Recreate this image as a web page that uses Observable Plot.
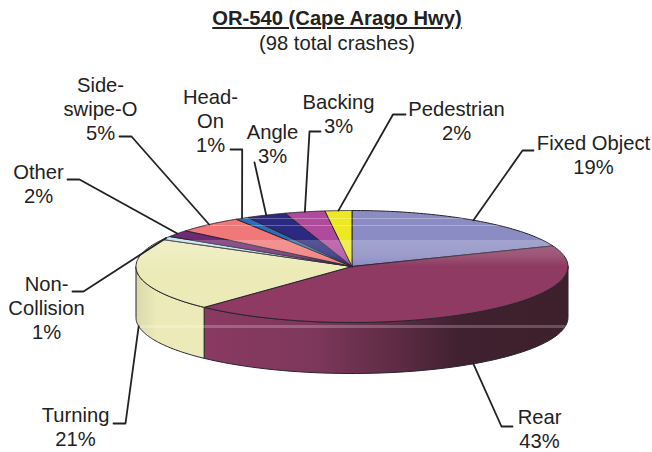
<!DOCTYPE html>
<html><head><meta charset="utf-8">
<script src="https://cdn.jsdelivr.net/npm/d3@7"></script>
<script src="https://cdn.jsdelivr.net/npm/@observablehq/plot@0.6"></script>
<style>
html,body{margin:0;padding:0;background:#fff}
#head{height:56px;box-sizing:border-box;padding-top:6px;text-align:center;font-family:"Liberation Sans",Arial,sans-serif;color:#222;width:674px}
#head .t{font-weight:bold;font-size:20.2px;line-height:25px;text-decoration:underline}
#head .s{font-size:20.2px;line-height:25px}
svg{display:block}
</style></head><body>
<div id="head"><div class="t">OR-540 (Cape Arago Hwy)</div><div class="s">(98 total crashes)</div></div>
<div id="chart"></div>
<script>
// Data
const categories = ["Fixed Object","Rear","Turning","Non-\nCollision","Other","Side-\nswipe-O","Head-\nOn","Angle","Backing","Pedestrian"];
const percents   = [19,43,21,1,2,5,1,3,3,2];
// Styles
const sliceColors = ["#8c8cc4","#8e3a62","#ecebb8","#bfe6ea","#6e2a72","#f07878","#2c6cb8","#2b2a80","#b04a9c","#ece924"];
// Layout (page pixels)
const pie = {cx:351.5, cy:266, rx:216, ry:56, depth:51};
const labelAt = [[593,154],[539,427.5],[75,426],[46,306.5],[38,183],[100,107.5],[210,120],[272,143],[338,112.5],[456,119.5]];
const elbowAt = [[533,150,522,150],[512,426,501,426],[113,423,125,423],[72,291,83,291],[67,179,79,179],[119,136,131,136],[230,149,241.7,149],[254,162,254,162],[320,131,309,131],[405,114,392.5,114]];

const total = d3.sum(percents);
const pt = (frac, depth = 0) => {
  const a = frac * 2 * Math.PI;
  return {x: pie.cx + pie.rx * Math.sin(a), y: pie.cy - pie.ry * Math.cos(a) + depth};
};
const arc = (f0, f1, depth = 0) => d3.range(0, 61).map(i => pt(f0 + (f1 - f0) * i / 60, depth));

let acc = 0;
const slices = percents.map((v, i) => {
  const s = {i, label: categories[i], pct: v, f0: acc / total, f1: (acc + v) / total, color: sliceColors[i]};
  acc += v; return s;
});
const center = {x: pie.cx, y: pie.cy};
const sidePoly = (f0, f1) => [...arc(f0, f1), ...arc(f1, f0, pie.depth), pt(f0)];
const rear = slices[1], turning = slices[2];

const defs = (index, {y}) => {
  const g = d3.create("svg:g");
  const d = g.append("defs");
  const lin = (id, stops, attrs) => {
    const l = d.append("linearGradient").attr("id", id);
    Object.entries(attrs).forEach(([k, v]) => l.attr(k, v));
    stops.forEach(([o, c, a]) => l.append("stop").attr("offset", o).attr("stop-color", c).attr("stop-opacity", a ?? 1));
  };
  lin("rearSide", [[0,"#8a3a62"],[.3,"#7e375b"],[.52,"#5f2c45"],[.7,"#40212f"],[1,"#3e202c"]], {x1:0,x2:1,y1:0,y2:0});
  lin("turnSide", [[0,"#d9d9ab"],[.3,"#ebeab8"],[1,"#ecebb8"]], {x1:0,x2:1,y1:0,y2:0});
  const y0 = y(205), y1 = y(335), f = v => (v - 205) / 130;
  const band = [[218,.0],[218,.28],[219,.28],[219,0],[225,0],[225,.28],[226,.28],[226,0],[240,0],[240,.2],[254,.15],[266,0],[325,0],[325,.22],[327,.22],[327,0]];
  lin("sheen", band.map(([v, a]) => [f(v), "#fff", a]), {gradientUnits:"userSpaceOnUse", x1:0, x2:0, y1:y0, y2:y1});
  return g.node();
};

const outline = {stroke:"#2a2430", strokeWidth:1, strokeLinejoin:"round"};
const leaders = slices.map((s, i) => {
  const mid = (s.f0 + s.f1) / 2;
  const onSide = i === 1 || i === 2;
  const e = elbowAt[i];
  return [pt(mid, onSide ? pie.depth : 0), {x:e[2], y:e[3]}, {x:e[0], y:e[1]}].map(p => ({...p, i}));
}).flat();
const labels = slices.map((s, i) => ({text: `${s.label}\n${s.pct}%`, x: labelAt[i][0], y: labelAt[i][1]}));

const plot = Plot.plot({
  width: 652, height: 396, margin: 0,
  x: {domain: [0, 652], range: [0, 652], axis: null},
  y: {domain: [56, 452], range: [0, 396], axis: null},
  style: {background: "transparent"},
  marks: [
    defs,
    Plot.line(sidePoly(.25, rear.f1), {x:"x", y:"y", fill:"url(#rearSide)", ...outline}),
    Plot.line(sidePoly(turning.f0, .75), {x:"x", y:"y", fill:"url(#turnSide)", ...outline}),
    ...slices.map(s => Plot.line([center, ...arc(s.f0, s.f1), center], {x:"x", y:"y", fill:s.color, ...outline})),
    Plot.line(arc(0, 1), {x:"x", y:"y", fill:"url(#sheen)", stroke:"none"}),
    Plot.line([...arc(.25, .75, pie.depth), ...arc(.75, .25)], {x:"x", y:"y", fill:"url(#sheen)", stroke:"none"}),
    Plot.line(leaders, {x:"x", y:"y", z:"i", stroke:"#222", strokeWidth:1.8}),
    Plot.text(labels, {x:"x", y:"y", text:"text", fontSize:20.2, lineHeight:1.19, fill:"#222", fontFamily:"'Liberation Sans',Arial,sans-serif"})
  ]
});
document.getElementById("chart").append(plot);
</script>
</body></html>
